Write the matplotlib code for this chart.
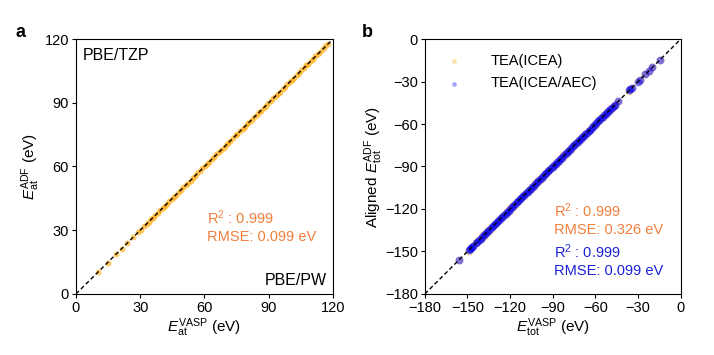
import numpy as np
import matplotlib
matplotlib.use('Agg')
import matplotlib.pyplot as plt

plt.rcParams['font.family'] = ['Liberation Sans', 'DejaVu Sans']
plt.rcParams['mathtext.fontset'] = 'custom'
plt.rcParams['mathtext.rm'] = 'Liberation Sans'
plt.rcParams['mathtext.it'] = 'Liberation Sans:italic'

# panel a: atomization energies (eV)
ea_vasp = [10.2, 14.8, 18.5, 21.3, 24.0, 26.7, 28.9, 30.4, 31.8, 33.0, 34.1, 35.2,
           36.0, 37.1, 38.3, 39.2, 40.4, 41.5, 42.3, 43.6, 44.8, 45.7, 46.9, 48.1,
           49.0, 50.2, 51.4, 52.3, 53.5, 54.6, 55.8, 56.7, 57.9, 59.0, 60.2, 61.1,
           62.3, 63.5, 64.4, 65.6, 66.8, 67.7, 68.9, 70.0, 71.2, 72.1, 73.3, 74.5,
           75.4, 76.6, 77.8, 78.7, 79.9, 81.0, 82.2, 83.1, 84.3, 85.5, 86.4, 87.6,
           88.8, 89.7, 90.9, 92.0, 93.2, 94.1, 95.3, 96.5, 97.4, 98.6, 99.8, 100.7,
           101.9, 103.0, 104.2, 105.1, 106.3, 107.5, 108.4, 109.6, 110.8, 111.7,
           112.9, 114.0, 115.2, 116.4, 117.6]
ea_adf = [10.3, 14.7, 18.6, 21.2, 24.1, 26.6, 29.0, 30.3, 31.9, 33.1, 34.0, 35.3,
          35.9, 37.2, 38.2, 39.3, 40.3, 41.6, 42.2, 43.7, 44.7, 45.8, 46.8, 48.2,
          48.9, 50.3, 51.3, 52.4, 53.4, 54.7, 55.7, 56.8, 57.8, 59.1, 60.1, 61.2,
          62.2, 63.6, 64.3, 65.7, 66.7, 67.8, 68.8, 70.1, 71.1, 72.2, 73.2, 74.6,
          75.3, 76.7, 77.7, 78.8, 79.8, 81.1, 82.1, 83.2, 84.2, 85.6, 86.3, 87.7,
          88.7, 89.8, 90.8, 92.1, 93.1, 94.2, 95.2, 96.6, 97.3, 98.7, 99.7, 100.8,
          101.8, 103.1, 104.1, 105.2, 106.2, 107.6, 108.3, 109.7, 110.7, 111.8,
          112.8, 114.1, 115.1, 116.5, 117.5]

# panel b: total energies (eV)
et_vasp = [-156.0, -149.2, -148.4, -147.6, -146.8, -146.0, -144.1, -143.0, -141.9,
           -140.8, -139.7, -138.6, -137.5, -136.4, -135.3, -134.2, -133.1, -132.0,
           -130.9, -129.8, -128.7, -127.6, -126.5, -125.4, -124.3, -123.2, -122.1,
           -121.0, -119.9, -118.8, -117.7, -116.6, -115.5, -114.4, -113.3, -112.2,
           -111.1, -110.0, -108.9, -107.8, -106.7, -105.6, -104.5, -103.4, -102.3,
           -101.2, -100.1, -99.0, -97.9, -96.8, -95.7, -94.6, -93.5, -92.4, -91.3,
           -90.2, -89.1, -88.0, -86.9, -85.8, -84.7, -83.6, -82.5, -81.4, -80.3,
           -79.2, -78.1, -77.0, -75.9, -74.8, -73.7, -72.6, -71.5, -70.4, -69.3,
           -68.2, -67.1, -66.0, -64.9, -63.8, -62.7, -61.6, -60.5, -59.4, -58.3,
           -57.2, -56.1, -55.0, -53.9, -52.8, -51.7, -50.6, -49.5, -48.4, -47.3,
           -46.2, -44.0, -36.2, -35.4, -34.6, -30.1, -28.8, -25.0, -22.4, -20.0, -14.8]
et_adf_icea = [-155.8, -149.5, -148.1, -147.9, -146.5, -146.3, -143.8, -143.3, -141.6,
               -141.1, -139.4, -138.9, -137.2, -136.7, -135.0, -134.5, -132.8, -132.3,
               -130.6, -130.1, -128.4, -127.9, -126.2, -125.7, -124.0, -123.5, -121.8,
               -121.3, -119.6, -119.1, -117.4, -116.9, -115.2, -114.7, -113.0, -112.5,
               -110.8, -110.3, -108.6, -108.1, -106.4, -105.9, -104.2, -103.7, -102.0,
               -101.5, -99.8, -99.3, -97.6, -97.1, -95.4, -94.9, -93.2, -92.7, -91.0,
               -90.5, -88.8, -88.3, -86.6, -86.1, -84.4, -83.9, -82.2, -81.7, -80.0,
               -79.5, -77.8, -77.3, -75.6, -75.1, -73.4, -72.9, -71.2, -70.7, -69.0,
               -68.5, -66.8, -66.3, -64.6, -64.1, -62.4, -61.9, -60.2, -59.7, -58.0,
               -57.5, -55.8, -55.3, -53.6, -53.1, -51.4, -50.9, -49.2, -48.7, -47.0,
               -46.5, -43.7, -36.5, -35.1, -34.9, -29.8, -29.1, -24.7, -22.7, -19.7, -15.1]
et_adf_aec = [-155.9, -149.3, -148.3, -147.7, -146.7, -146.1, -144.0, -143.1, -141.8,
              -140.9, -139.6, -138.7, -137.4, -136.5, -135.2, -134.3, -133.0, -132.1,
              -130.8, -129.9, -128.6, -127.7, -126.4, -125.5, -124.2, -123.3, -122.0,
              -121.1, -119.8, -118.9, -117.6, -116.7, -115.4, -114.5, -113.2, -112.3,
              -111.0, -110.1, -108.8, -107.9, -106.6, -105.7, -104.4, -103.5, -102.2,
              -101.3, -100.0, -99.1, -97.8, -96.9, -95.6, -94.7, -93.4, -92.5, -91.2,
              -90.3, -89.0, -88.1, -86.8, -85.9, -84.6, -83.7, -82.4, -81.5, -80.2,
              -79.3, -78.0, -77.1, -75.8, -74.9, -73.6, -72.7, -71.4, -70.5, -69.2,
              -68.3, -67.0, -66.1, -64.8, -63.9, -62.6, -61.7, -60.4, -59.5, -58.2,
              -57.3, -56.0, -55.1, -53.8, -52.9, -51.6, -50.7, -49.4, -48.5, -47.2,
              -46.3, -43.9, -36.3, -35.3, -34.7, -30.0, -28.9, -24.9, -22.5, -19.9, -14.9]

ticks_a = [0, 30, 60, 90, 120]
ticks_b = [-180, -150, -120, -90, -60, -30, 0]

orange = '#ffa500'
txt_orange = '#f07f3c'
txt_blue = '#1c22d8'

fig = plt.figure(figsize=(7.14, 3.55), dpi=100)
ax1 = fig.add_axes([0.1064, 0.172, 0.36, 0.718])
ax2 = fig.add_axes([0.595, 0.172, 0.3585, 0.718])

# a
ax1.scatter(ea_vasp, ea_adf, s=18, color=orange, alpha=0.6, lw=0)
ax1.plot([0, 120], [0, 120], 'k--', lw=1, dashes=(3, 2))
ax1.set_xlim(0, 120)
ax1.set_ylim(0, 120)
ax1.set_xticks(ticks_a)
ax1.set_yticks(ticks_a)
ax1.set_xlabel(r'$E_{\mathrm{at}}^{\mathrm{VASP}}$ (eV)', fontsize=11, labelpad=1)
ax1.set_ylabel(r'$E_{\mathrm{at}}^{\mathrm{ADF}}$ (eV)', fontsize=11, labelpad=2)
ax1.text(3, 116, 'PBE/TZP', fontsize=11.5, va='top')
ax1.text(117, 3, 'PBE/PW', fontsize=11.5, ha='right', va='bottom')
ax1.text(61, 36, r'R$^2$ : 0.999', color=txt_orange, fontsize=10.5, va='center')
ax1.text(61, 27, 'RMSE: 0.099 eV', color=txt_orange, fontsize=10.5, va='center')

# b
ax2.scatter(et_vasp, et_adf_icea, s=32, color=orange, alpha=0.35, lw=0, label='TEA(ICEA)')
ax2.scatter(et_vasp, et_adf_aec, s=32, color='blue', alpha=0.5, lw=0, label='TEA(ICEA/AEC)')
ax2.plot([-180, 0], [-180, 0], 'k--', lw=1, dashes=(3, 2))
ax2.set_xlim(-180, 0)
ax2.set_ylim(-180, 0)
ax2.set_xticks(ticks_b)
ax2.set_yticks(ticks_b)
ax2.set_xticklabels([str(t).replace('-', '\u2212') for t in ticks_b])
ax2.set_yticklabels([str(t).replace('-', '\u2212') for t in ticks_b])
ax2.set_xlabel(r'$E_{\mathrm{tot}}^{\mathrm{VASP}}$ (eV)', fontsize=11, labelpad=1)
ax2.set_ylabel(r'Aligned $E_{\mathrm{tot}}^{\mathrm{ADF}}$ (eV)', fontsize=11, labelpad=0)
leg = ax2.legend(loc='upper left', frameon=False, fontsize=10.5, markerscale=0.6,
                 handletextpad=1.5, borderaxespad=0.6, labelspacing=0.6)
for h in leg.legend_handles:
    h.set_alpha(0.35)
ax2.text(-89, -121, r'R$^2$ : 0.999', color=txt_orange, fontsize=10.5, va='center')
ax2.text(-89, -134.5, 'RMSE: 0.326 eV', color=txt_orange, fontsize=10.5, va='center')
ax2.text(-89, -150.5, r'R$^2$ : 0.999', color=txt_blue, fontsize=10.5, va='center')
ax2.text(-89, -163.5, 'RMSE: 0.099 eV', color=txt_blue, fontsize=10.5, va='center')

for ax in (ax1, ax2):
    ax.tick_params(labelsize=10.5, length=3, width=0.8, pad=2)
    for sp in ax.spines.values():
        sp.set_linewidth(0.8)

fig.text(0.022, 0.895, 'a', fontsize=13, fontweight='bold')
fig.text(0.507, 0.895, 'b', fontsize=13, fontweight='bold')

fig.savefig('out.png', dpi=100)
